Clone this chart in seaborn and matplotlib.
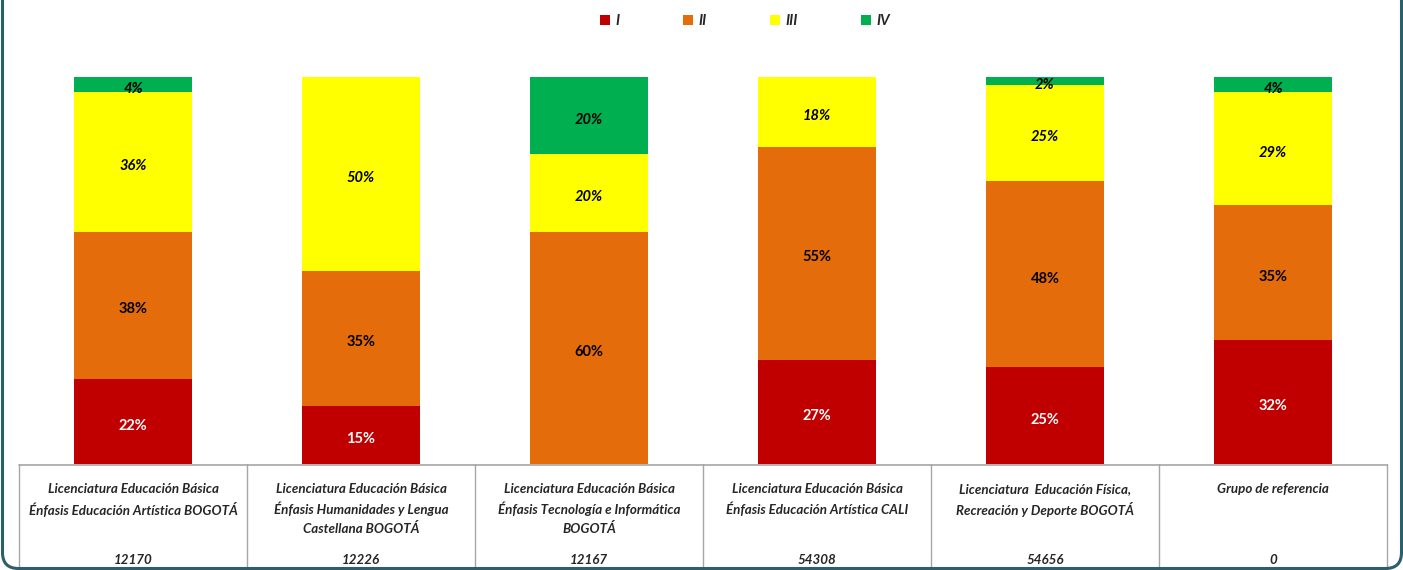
import pandas as pd
import seaborn as sns
import matplotlib.pyplot as plt
from matplotlib.patches import Patch, FancyBboxPatch

programs = [
    "Licenciatura Educación Básica\nÉnfasis Educación Artística BOGOTÁ",
    "Licenciatura Educación Básica\nÉnfasis Humanidades y Lengua\nCastellana BOGOTÁ",
    "Licenciatura Educación Básica\nÉnfasis Tecnología e Informática\nBOGOTÁ",
    "Licenciatura Educación Básica\nÉnfasis Educación Artística CALI",
    "Licenciatura  Educación Física,\nRecreación y Deporte BOGOTÁ",
    "Grupo de referencia",
]
codes = ["12170", "12226", "12167", "54308", "54656", "0"]
levels = ["I", "II", "III", "IV"]
nivel_i = [22, 15, 0, 27, 25, 32]
nivel_ii = [38, 35, 60, 55, 48, 35]
nivel_iii = [36, 50, 20, 18, 25, 29]
nivel_iv = [4, 0, 20, 0, 2, 4]

colors = {"I": "#C00000", "II": "#E46C0A", "III": "#FFFF00", "IV": "#00B050"}
label_style = {
    "I": dict(color="white", fontstyle="normal"),
    "II": dict(color="black", fontstyle="normal"),
    "III": dict(color="black", fontstyle="italic"),
    "IV": dict(color="black", fontstyle="italic"),
}

rows = []
for lvl, vals in zip(levels, [nivel_i, nivel_ii, nivel_iii, nivel_iv]):
    for prog, v in zip(programs, vals):
        rows.append({"programa": prog, "nivel": lvl, "valor": v})
df = pd.DataFrame(rows)
df["nivel"] = pd.Categorical(df["nivel"], levels, ordered=True)
df["programa"] = pd.Categorical(df["programa"], programs, ordered=True)
df = df.sort_values(["programa", "nivel"])
df["tope"] = df.groupby("programa", observed=True)["valor"].cumsum()
df["base"] = df["tope"] - df["valor"]

sns.set_style("white")
plt.rcParams["font.family"] = ["Lato", "DejaVu Sans"]

fig = plt.figure(figsize=(14.03, 5.70), dpi=100)
W, H = 1403, 570
left, right = 19 / W, 1387 / W
ax = fig.add_axes([left, (H - 464) / H, right - left, 387 / H])

# stacked bars: draw cumulative totals from the top level down
for lvl in reversed(levels):
    sub = df[df["nivel"] == lvl]
    sns.barplot(data=sub, x="programa", y="tope", order=programs, color=colors[lvl],
                saturation=1, width=0.518, errorbar=None, linewidth=0, ax=ax)

for _, r in df.iterrows():
    if r["valor"] <= 0:
        continue
    i = programs.index(r["programa"])
    ax.annotate(f"{r['valor']}%", (i, (r["base"] + r["tope"]) / 2), xytext=(0, -3),
                textcoords="offset points", ha="center", va="center",
                fontsize=10.5, fontweight="bold", **label_style[r["nivel"]])

ax.set_xlim(-0.5, len(programs) - 0.5)
ax.set_ylim(0, 100)
ax.set_xlabel("")
ax.set_ylabel("")
ax.set_xticks([])
ax.set_yticks([])
for s in ax.spines.values():
    s.set_visible(False)

# table with program names and codes
axt = fig.add_axes([left, -10 / H, right - left, 116 / H])
axt.set_xlim(-0.5, len(programs) - 0.5)
axt.set_ylim(116, 0)
axt.axis("off")
grid = "#a6a6a6"
axt.plot([-0.5, len(programs) - 0.5], [0.5, 0.5], color=grid, lw=1.2, clip_on=False)
for k in range(len(programs) + 1):
    axt.plot([k - 0.5, k - 0.5], [0, 116], color=grid, lw=1, clip_on=False)
for i, (prog, code) in enumerate(zip(programs, codes)):
    axt.text(i, 19, prog, ha="center", va="top", fontsize=9.6, fontweight="bold",
             fontstyle="italic", linespacing=1.52)
    axt.text(i, 96, code, ha="center", va="center", fontsize=9.6, fontweight="bold",
             fontstyle="italic")

handles = [Patch(facecolor=colors[l], edgecolor="none") for l in levels]
leg = fig.legend(handles, levels, loc="center", bbox_to_anchor=(745 / W, 1 - 21 / H), ncol=4,
                 frameon=False, handlelength=0.7, handleheight=0.75, handletextpad=0.4,
                 columnspacing=4.3, prop={"weight": "bold", "style": "italic", "size": 10.5})

frame = FancyBboxPatch((0.025, 0.015), 13.99, 10.0, boxstyle="round,pad=0,rounding_size=0.16",
                       transform=fig.dpi_scale_trans, facecolor="none", edgecolor="#2B5E6E",
                       linewidth=2.2)
fig.add_artist(frame)

fig.savefig("out.png", dpi=100)
